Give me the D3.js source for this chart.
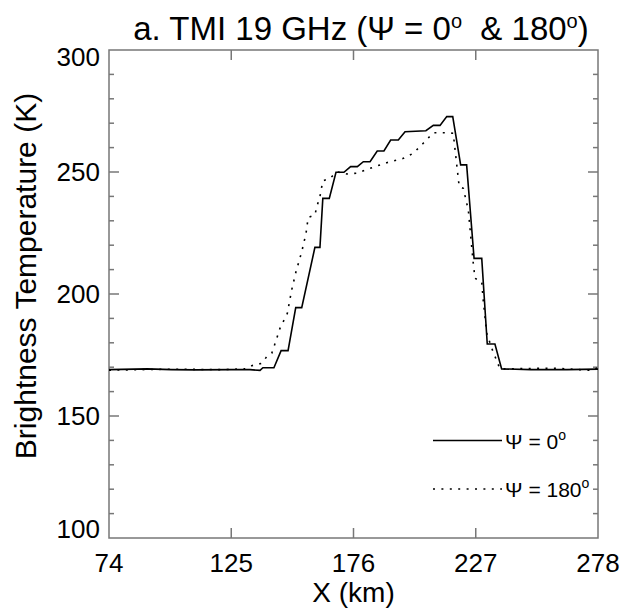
<!DOCTYPE html>
<html>
<head>
<meta charset="utf-8">
<script src="https://cdn.jsdelivr.net/npm/d3@7"></script>
<style>
  body { margin: 0; background: #fff; }
  text { font-family: "Liberation Sans", Arial, sans-serif; fill: #000; }
</style>
</head>
<body>
<div id="chart"></div>
<script>
// Psi = 0 deg (solid)
var x0 = [74, 90, 100, 110, 125, 132.8, 137.0, 138.2, 142.8, 145.8, 148.7, 151.9, 154.4, 159.9, 162.0,
          163.2, 165.9, 168.7, 172.0, 174.8, 177.6, 180.1, 182.9, 185.9, 188.7, 191.5, 194.7, 197.5,
          206.2, 209.3, 212.1, 214.9, 217.4, 220.7, 223.2, 226.3, 229.5, 231.8, 235.0, 237.8, 250, 265, 278];
var t0 = [169.0, 169.3, 169.0, 168.9, 169.0, 169.0, 168.7, 169.8, 169.8, 176.8, 176.8, 194.4, 194.4, 219.1, 219.1,
          239.2, 239.2, 249.9, 249.9, 252.2, 252.2, 254.2, 254.2, 258.6, 258.6, 263.1, 263.1, 266.5,
          266.9, 269.1, 269.1, 272.7, 272.7, 252.9, 252.9, 214.6, 214.6, 179.5, 179.5, 169.3, 169.0, 169.0, 169.2];

// Psi = 180 deg (dotted)
var x180 = [74, 100, 120, 130.7, 133.5, 137.7, 139.8, 141.9, 144.2, 145.3, 148.4, 150.2, 152.0, 154.4, 156.2,
            157.1, 159.9, 160.7, 162.0, 163.2, 166.2, 169.0, 173.2, 177.3, 182.9, 189.8, 196.8, 201.0,
            205.1, 209.3, 213.5, 217.6, 219.0, 220.1, 221.8, 223.9, 225.9, 226.7, 229.5, 230.1, 231.6,
            233.7, 237.1, 260, 270, 276, 278];
var t180 = [168.8, 169.2, 169.0, 169.3, 170.6, 171.6, 174.3, 175.7, 182.5, 185.9, 192.1, 201.6, 209.1, 217.3, 224.9,
            231.4, 232.4, 235.8, 239.9, 246.4, 247.4, 250.1, 249.2, 249.5, 251.5, 253.8, 255.6, 257.7,
            261.8, 266.1, 266.1, 265.9, 253.6, 244.0, 243.3, 234.4, 213.2, 206.4, 205.0, 197.5, 183.9,
            177.7, 169.3, 169.6, 169.0, 168.7, 170.0];

var xTicks = [74, 125, 176, 227, 278];
var yTicks = [100, 150, 200, 250, 300];
var yMinor = d3.range(110, 300, 10).filter(function(v) { return v % 50 !== 0; });

var width = 622, height = 611;
var margin = { left: 109, right: 24, top: 50, bottom: 73 };
var innerW = width - margin.left - margin.right;
var innerH = height - margin.top - margin.bottom;

var xScale = d3.scaleLinear().domain([74, 278]).range([0, innerW]);
var yScale = d3.scaleLinear().domain([100, 300]).range([innerH, 0]);

var svg = d3.select('#chart').append('svg')
            .attr('width', width)
            .attr('height', height);

var g = svg.append('g').attr('transform', 'translate(' + margin.left + ',' + margin.top + ')');

var axisColor = '#777';

// Frame
g.append('rect')
 .attr('width', innerW).attr('height', innerH)
 .attr('fill', 'none').attr('stroke', axisColor).attr('stroke-width', 1.5);

// X ticks (bottom and top, inward)
xTicks.slice(1, -1).forEach(function(v) {
  g.append('line').attr('x1', xScale(v)).attr('x2', xScale(v))
   .attr('y1', innerH).attr('y2', innerH - 10)
   .attr('stroke', axisColor).attr('stroke-width', 1.5);
  g.append('line').attr('x1', xScale(v)).attr('x2', xScale(v))
   .attr('y1', 0).attr('y2', 10)
   .attr('stroke', axisColor).attr('stroke-width', 1.5);
});

// Y ticks (left and right, inward)
function yTick(v, len) {
  g.append('line').attr('x1', 0).attr('x2', len)
   .attr('y1', yScale(v)).attr('y2', yScale(v))
   .attr('stroke', axisColor).attr('stroke-width', 1.5);
  g.append('line').attr('x1', innerW).attr('x2', innerW - len)
   .attr('y1', yScale(v)).attr('y2', yScale(v))
   .attr('stroke', axisColor).attr('stroke-width', 1.5);
}
yTicks.slice(1, -1).forEach(function(v) { yTick(v, 10); });
yMinor.forEach(function(v) { yTick(v, 5); });

// Tick labels
g.selectAll('.xlab').data(xTicks).enter().append('text')
 .attr('class', 'xlab')
 .attr('x', function(d) { return xScale(d); })
 .attr('y', innerH + 34)
 .attr('text-anchor', 'middle')
 .attr('font-size', 26)
 .text(function(d) { return d; });

g.selectAll('.ylab').data(yTicks).enter().append('text')
 .attr('class', 'ylab')
 .attr('x', -9)
 .attr('y', function(d) {
   var off = d === 300 ? 6.6 : (d === 100 ? -9 : 0);
   return yScale(d) + off;
 })
 .attr('dy', '0.35em')
 .attr('text-anchor', 'end')
 .attr('font-size', 26)
 .text(function(d) { return d; });

// Axis titles
svg.append('text')
   .attr('x', margin.left + innerW / 2)
   .attr('y', 602)
   .attr('text-anchor', 'middle')
   .attr('font-size', 28)
   .text('X (km)');

svg.append('text')
   .attr('transform', 'translate(36,' + 276 + ') rotate(-90)')
   .attr('text-anchor', 'middle')
   .attr('font-size', 30)
   .text('Brightness Temperature (K)');

// Title
var title = svg.append('text')
   .attr('x', 361)
   .attr('y', 40)
   .attr('text-anchor', 'middle')
   .attr('font-size', 33)
   .attr('xml:space', 'preserve');
title.append('tspan').text('a. TMI 19 GHz (\u03A8 = 0');
title.append('tspan').attr('dy', -12).attr('font-size', 20).text('o');
title.append('tspan').attr('dy', 12).text('  & 180');
title.append('tspan').attr('dy', -12).attr('font-size', 20).text('o');
title.append('tspan').attr('dy', 12).text(')');

// Lines
var line = d3.line()
             .x(function(d) { return xScale(d[0]); })
             .y(function(d) { return yScale(d[1]); });

g.append('path')
 .datum(d3.zip(x0, t0))
 .attr('d', line)
 .attr('fill', 'none').attr('stroke', '#000').attr('stroke-width', 1.6);

g.append('path')
 .datum(d3.zip(x180, t180))
 .attr('d', line)
 .attr('fill', 'none').attr('stroke', '#000').attr('stroke-width', 1.6)
 .attr('stroke-dasharray', '2,6.4');

// Legend
var legend = [
  { label: '0', dash: null, y: 440.5 },
  { label: '180', dash: '2,6.4', y: 489 }
];
legend.forEach(function(l) {
  svg.append('line')
     .attr('x1', 433).attr('x2', 502)
     .attr('y1', l.y).attr('y2', l.y)
     .attr('stroke', '#000').attr('stroke-width', 1.6)
     .attr('stroke-dasharray', l.dash);
  var t = svg.append('text')
     .attr('x', 505).attr('y', l.y + 8)
     .attr('font-size', 21);
  t.append('tspan').text('\u03A8 = ' + l.label);
  t.append('tspan').attr('dy', -9).attr('font-size', 14).text('o');
});
</script>
</body>
</html>
